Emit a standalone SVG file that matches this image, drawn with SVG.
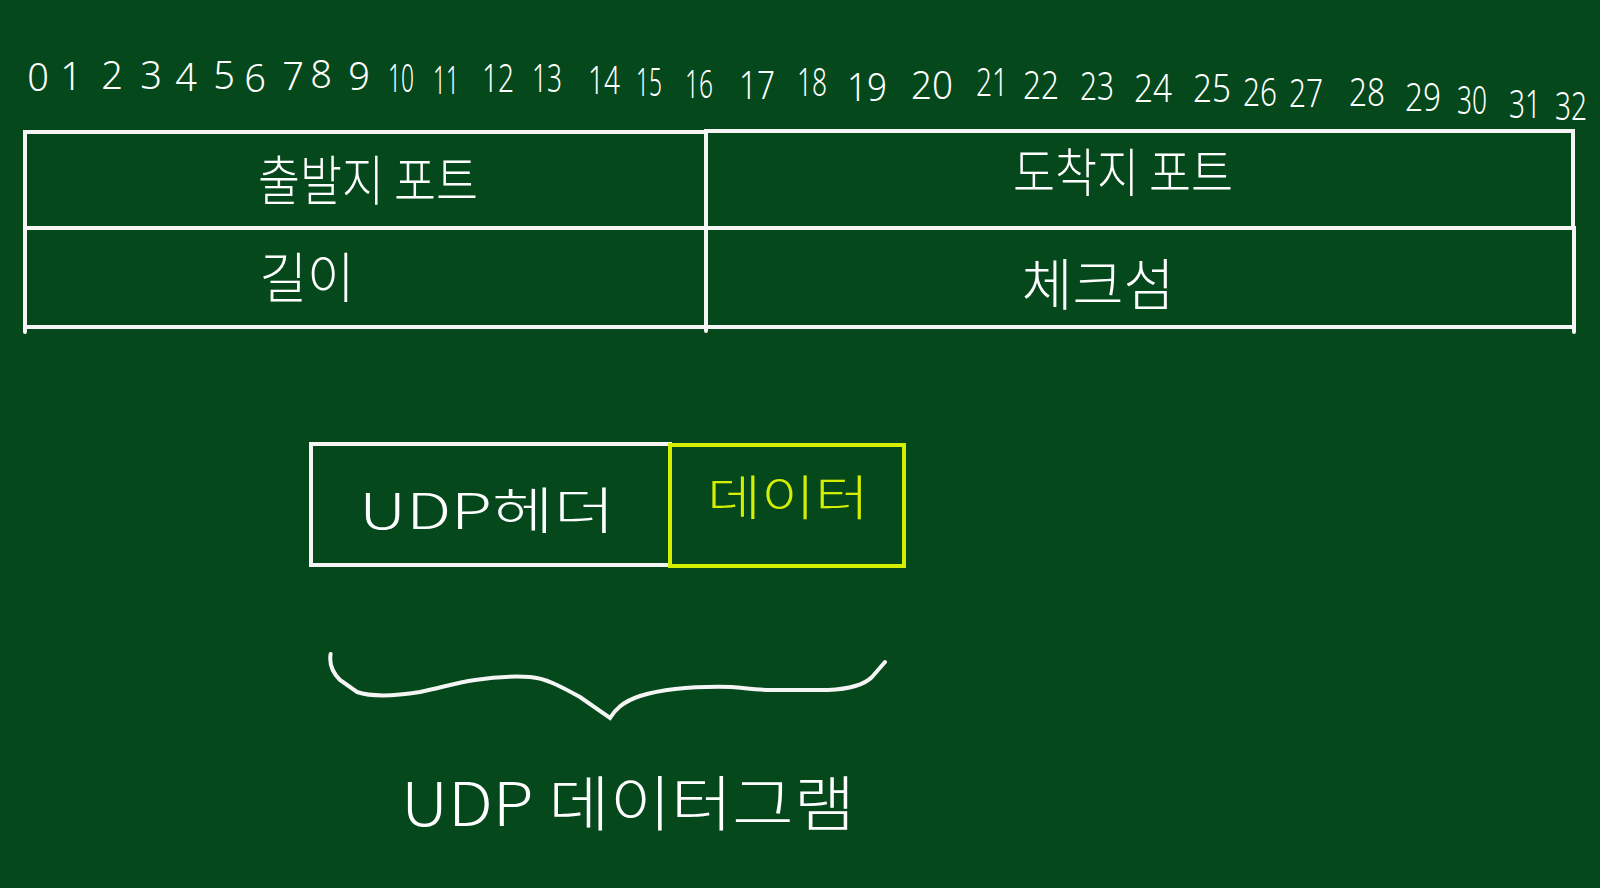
<svg xmlns="http://www.w3.org/2000/svg" width="1600" height="888" viewBox="0 0 1600 888">
  <style>
    .bg { fill: #04481b; }
    .line { fill: none; stroke: #f5f5f5; stroke-width: 4; stroke-linecap: round; }
    .ybox { fill: none; stroke: #d4f000; stroke-width: 4; }
    .num { font-family: "Noto Sans", "Liberation Sans", sans-serif; font-size: 38px; font-weight: 300; fill: #ffffff; text-anchor: middle; }
    .kr { font-family: "Noto Sans CJK KR", "Noto Sans", sans-serif; font-weight: 300; fill: #ffffff; text-anchor: middle; }
    .kry { font-family: "Noto Sans CJK KR", "Noto Sans", sans-serif; font-weight: 300; fill: #d4f000; text-anchor: middle; }
  </style>
  <rect class="bg" x="0" y="0" width="1600" height="888"/>

  <g id="bit-numbers">
    <text class="num" x="38" y="91">0</text>
    <text class="num" x="71" y="90">1</text>
    <text class="num" x="112" y="89">2</text>
    <text class="num" x="151" y="89">3</text>
    <text class="num" x="186" y="91">4</text>
    <text class="num" x="224" y="89">5</text>
    <text class="num" x="255" y="92">6</text>
    <text class="num" x="293" y="90">7</text>
    <text class="num" x="321" y="88">8</text>
    <text class="num" x="359" y="90">9</text>
    <text class="num" x="401" y="92" textLength="26" lengthAdjust="spacingAndGlyphs">10</text>
    <text class="num" x="446" y="94" textLength="26" lengthAdjust="spacingAndGlyphs">11</text>
    <text class="num" x="498" y="92" textLength="32" lengthAdjust="spacingAndGlyphs">12</text>
    <text class="num" x="547" y="92" textLength="30" lengthAdjust="spacingAndGlyphs">13</text>
    <text class="num" x="604" y="94" textLength="32" lengthAdjust="spacingAndGlyphs">14</text>
    <text class="num" x="649" y="96" textLength="26" lengthAdjust="spacingAndGlyphs">15</text>
    <text class="num" x="699" y="98" textLength="28" lengthAdjust="spacingAndGlyphs">16</text>
    <text class="num" x="757" y="99" textLength="36" lengthAdjust="spacingAndGlyphs">17</text>
    <text class="num" x="812" y="96" textLength="30" lengthAdjust="spacingAndGlyphs">18</text>
    <text class="num" x="867" y="101" textLength="40" lengthAdjust="spacingAndGlyphs">19</text>
    <text class="num" x="932" y="99" textLength="42" lengthAdjust="spacingAndGlyphs">20</text>
    <text class="num" x="992" y="96" textLength="32" lengthAdjust="spacingAndGlyphs">21</text>
    <text class="num" x="1041" y="99" textLength="36" lengthAdjust="spacingAndGlyphs">22</text>
    <text class="num" x="1097" y="100" textLength="34" lengthAdjust="spacingAndGlyphs">23</text>
    <text class="num" x="1153" y="102" textLength="38" lengthAdjust="spacingAndGlyphs">24</text>
    <text class="num" x="1212" y="102" textLength="38" lengthAdjust="spacingAndGlyphs">25</text>
    <text class="num" x="1260" y="106" textLength="34" lengthAdjust="spacingAndGlyphs">26</text>
    <text class="num" x="1306" y="107" textLength="34" lengthAdjust="spacingAndGlyphs">27</text>
    <text class="num" x="1367" y="106" textLength="36" lengthAdjust="spacingAndGlyphs">28</text>
    <text class="num" x="1423" y="111" textLength="36" lengthAdjust="spacingAndGlyphs">29</text>
    <text class="num" x="1472" y="114" textLength="30" lengthAdjust="spacingAndGlyphs">30</text>
    <text class="num" x="1525" y="118" textLength="32" lengthAdjust="spacingAndGlyphs">31</text>
    <text class="num" x="1571" y="120" textLength="32" lengthAdjust="spacingAndGlyphs">32</text>
  </g>

  <g id="cell-src-port">
    <rect class="line" x="25" y="132" width="681" height="96"/>
    <text class="kr" x="368" y="201" font-size="54" textLength="220" lengthAdjust="spacingAndGlyphs">출발지 포트</text>
  </g>
  <g id="cell-dst-port">
    <rect class="line" x="706" y="131" width="867" height="97"/>
    <text class="kr" x="1123" y="192" font-size="52" textLength="220" lengthAdjust="spacingAndGlyphs">도착지 포트</text>
  </g>
  <g id="cell-length">
    <rect class="line" x="25" y="228" width="681" height="99"/>
    <text class="kr" x="307" y="298" font-size="54" textLength="95" lengthAdjust="spacingAndGlyphs">길이</text>
  </g>
  <g id="cell-checksum">
    <rect class="line" x="706" y="228" width="868" height="99"/>
    <text class="kr" x="1098" y="305" font-size="56" textLength="153" lengthAdjust="spacingAndGlyphs">체크섬</text>
  </g>
  <g id="table-ticks">
    <path class="line" d="M25 327 V332 M706 327 V331 M1574 327 V332"/>
  </g>

  <g id="box-udp-header">
    <rect class="line" x="311" y="444" width="359" height="121"/>
    <text class="kr" x="487" y="529" font-size="50" textLength="256" lengthAdjust="spacingAndGlyphs">UDP헤더</text>
  </g>
  <g id="box-data">
    <rect class="ybox" x="670" y="445" width="234" height="121"/>
    <text class="kry" x="788" y="515" font-size="48" textLength="162" lengthAdjust="spacingAndGlyphs">데이터</text>
  </g>

  <g id="connectors">
    <path class="line" d="M330.6 654 C329 664 332 672 340 680 L357 692 C372 697 395 696 420 692 C440 688 455 683 475 680 C495 677 515 676 530 677 C545 678 560 686 580 697 L610 718 C615 710 622 702 640 696 C660 690 690 686 732 687 C745 688 755 690 770 690 L828 690 C850 689 865 684 872 677 L885 662"/>
  </g>

  <g id="label-datagram">
    <text class="kr" x="628" y="826" font-size="60" textLength="454" lengthAdjust="spacingAndGlyphs">UDP 데이터그램</text>
  </g>
</svg>
